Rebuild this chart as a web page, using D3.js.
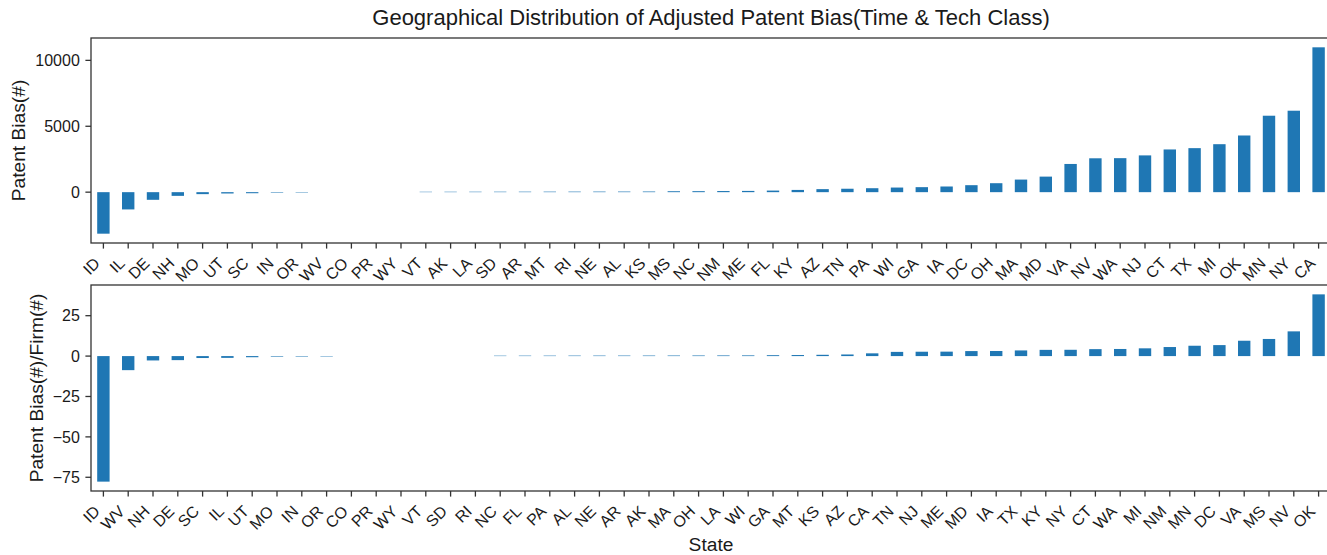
<!DOCTYPE html>
<html>
<head>
<meta charset="utf-8">
<script src="https://cdn.jsdelivr.net/npm/d3@7"></script>
<style>
  body { margin: 0; background: #fff; }
  svg { display: block; font-family: "Liberation Sans", Arial, sans-serif; }
</style>
</head>
<body>
<svg id="chart" width="1327" height="555"></svg>
<script>
// Adjusted patent bias per state, sorted ascending
const totalStates = ["ID","IL","DE","NH","MO","UT","SC","IN","OR","WV","CO","PR","WY","VT","AK","LA","SD","AR","MT","RI","NE","AL","KS","MS","NC","NM","ME","FL","KY","AZ","TN","PA","WI","GA","IA","DC","OH","MA","MD","VA","NV","WA","NJ","CT","TX","MI","OK","MN","NY","CA"];
const totalBias = [-3150,-1310,-580,-280,-150,-100,-80,-38,-30,0,0,0,0,30,32,34,36,38,40,42,44,46,50,70,75,85,95,120,170,230,260,300,350,380,430,530,680,955,1180,2140,2570,2580,2790,3240,3340,3640,4300,5800,6180,10990];
const totalTicks = [0, 5000, 10000];

// Adjusted patent bias divided by number of firms, sorted ascending
const perFirmStates = ["ID","WV","NH","DE","SC","IL","UT","MO","IN","OR","CO","PR","WY","VT","SD","RI","NC","FL","PA","AL","NE","AR","AK","MA","OH","LA","WI","GA","MT","KS","AZ","CA","TN","NJ","ME","MD","IA","TX","KY","NY","CT","WA","MI","NM","MN","DC","VA","MS","NV","OK"];
const perFirmBias = [-77.7,-8.7,-2.7,-2.5,-1.2,-1.1,-0.7,-0.35,-0.3,-0.25,0,0,0,0,0,0,0.25,0.27,0.28,0.3,0.31,0.32,0.33,0.35,0.37,0.4,0.43,0.55,0.65,0.8,1.0,1.7,2.6,2.7,2.75,3.1,3.15,3.5,3.85,3.9,4.3,4.4,4.8,5.6,6.4,6.8,9.5,10.6,15.3,38.2];
const perFirmTicks = [-75, -50, -25, 0, 25];

const svg = d3.select("#chart");
const left = 91, right = 1331;
const barColor = "#1f77b4";
const inkColor = "#1a1a1a";
const spineColor = "#333";
const tickLen = 5.6, tickPad = 5.6;
const minus = v => String(v).replace("-", "\u2212");

function panel(states, values, ticks, top, bottom, label, labelX) {
  const g = svg.append("g");
  const lo = Math.min(0, d3.min(values)), hi = Math.max(0, d3.max(values));
  const pad = (hi - lo) * 0.05;

  const x = d3.scaleBand().domain(states).range([left, right])
    .paddingInner(0.5).paddingOuter(0.25);
  const y = d3.scaleLinear().domain([lo - pad, hi + pad]).range([bottom, top]);

  // bars
  g.append("g").selectAll("rect").data(states).join("rect")
    .attr("x", d => x(d))
    .attr("width", x.bandwidth())
    .attr("y", (d, i) => Math.min(y(values[i]), y(0)))
    .attr("height", (d, i) => Math.abs(y(values[i]) - y(0)))
    .attr("fill", barColor);

  // spines (right one lies past the page edge)
  g.append("rect")
    .attr("x", left).attr("y", top)
    .attr("width", right - left).attr("height", bottom - top)
    .attr("fill", "none").attr("stroke", spineColor).attr("stroke-width", 1.3);

  // y axis ticks
  const yt = g.append("g").selectAll("g").data(ticks).join("g");
  yt.append("line")
    .attr("x1", left - tickLen).attr("x2", left)
    .attr("y1", d => y(d)).attr("y2", d => y(d))
    .attr("stroke", spineColor).attr("stroke-width", 1.3);
  yt.append("text")
    .attr("x", left - tickLen - tickPad)
    .attr("y", d => y(d))
    .attr("dy", "0.36em")
    .attr("text-anchor", "end")
    .attr("font-size", 16)
    .attr("fill", inkColor)
    .text(d => minus(d));

  // x axis ticks and rotated state labels
  const xt = g.append("g").selectAll("g").data(states).join("g");
  const cx = d => x(d) + x.bandwidth() / 2;
  xt.append("line")
    .attr("x1", cx).attr("x2", cx)
    .attr("y1", bottom).attr("y2", bottom + tickLen)
    .attr("stroke", spineColor).attr("stroke-width", 1.3);
  xt.append("text")
    .attr("text-anchor", "end")
    .attr("font-size", 16)
    .attr("fill", inkColor)
    .attr("transform", d => `translate(${cx(d) - 2.4},${bottom + 21.4}) rotate(-45)`)
    .text(d => d);

  // y axis label
  g.append("text")
    .attr("transform", `translate(${labelX},${(top + bottom) / 2}) rotate(-90)`)
    .attr("text-anchor", "middle")
    .attr("font-size", 19.2)
    .attr("fill", inkColor)
    .text(label);
}

panel(totalStates, totalBias, totalTicks, 38, 243, "Patent Bias(#)", 25);
panel(perFirmStates, perFirmBias, perFirmTicks, 285, 491, "Patent Bias(#)/Firm(#)", 43);

svg.append("text")
  .attr("x", (left + right) / 2).attr("y", 25)
  .attr("text-anchor", "middle")
  .attr("font-size", 22)
  .attr("fill", inkColor)
  .text("Geographical Distribution of Adjusted Patent Bias(Time & Tech Class)");

svg.append("text")
  .attr("x", (left + right) / 2).attr("y", 551)
  .attr("text-anchor", "middle")
  .attr("font-size", 19.2)
  .attr("fill", inkColor)
  .text("State");
</script>
</body>
</html>
